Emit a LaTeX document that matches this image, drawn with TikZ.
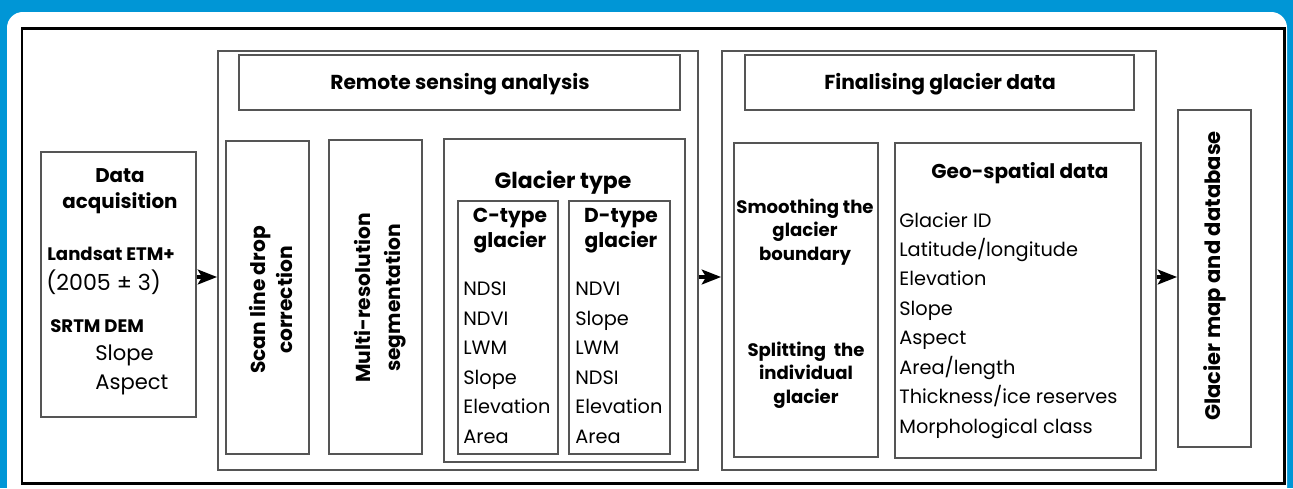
\documentclass[tikz,border=0pt]{standalone}
\usepackage{fontspec}
\setmainfont{Poppins}
\usetikzlibrary{positioning,calc,arrows.meta}
\definecolor{panelblue}{RGB}{0,150,214}
\definecolor{boxgray}{RGB}{85,85,85}
\newcommand{\mybox}[5]{
	% corners given in pixels: left, top, right, bottom
	\node [box, minimum width={(#4-#2)*0.02cm}, minimum height={(#5-#3)*0.02cm}] (#1) at ({(#2+#4)/2}, {(#3+#5)/2}) {};
}
\tikzset{
	box/.style={draw=boxgray, line width=1.1pt, inner sep=0pt},
	titletxt/.style={font=\bfseries\fontsize{11.5}{14}\selectfont, inner sep=0pt, align=center},
	bighead/.style={font=\bfseries\fontsize{12.5}{14.5}\selectfont, inner sep=0pt, align=center},
	smallhead/.style={font=\bfseries\fontsize{10.3}{13.3}\selectfont, inner sep=0pt, align=center},
	rothead/.style={font=\bfseries\fontsize{11.5}{15.5}\selectfont, inner sep=0pt, align=center, rotate=90},
	listtxt/.style={font=\fontsize{11}{16.75}\selectfont, inner sep=0pt, align=left, anchor=base west},
	link/.style={line width=1.8pt, -{Stealth[length=11pt,width=8.5pt,inset=2.5pt]}}
}

\begin{document}
\begin{tikzpicture}[x=0.02cm, y=-0.02cm]
		\useasboundingbox (0,0) rectangle (1293,488);
		\fill [panelblue] (0,0) rectangle (1293,488);
		\fill [white, rounded corners=9pt] (7,12) rectangle (1287,520);
		\draw [black, line width=1.7pt] (22,28) rectangle (1284,483);
		% boxes
		\mybox{acq}{41}{152}{196}{417}
		\mybox{remote}{218}{51}{698}{470}
		\mybox{remotetitle}{239}{55}{680}{110}
		\mybox{scan}{226}{141}{309}{454}
		\mybox{multi}{329}{140}{422}{454}
		\mybox{gtype}{444}{139}{685}{462}
		\mybox{ctype}{458}{201}{558}{454}
		\mybox{dtype}{569}{201}{670}{454}
		\mybox{final}{722}{51}{1156}{470}
		\mybox{finaltitle}{745}{55}{1134}{110}
		\mybox{smooth}{734}{143}{878}{457}
		\mybox{geo}{895}{143}{1141}{458}
		\mybox{map}{1178}{110}{1251}{447}
		% texts (multi-line nodes sit on the baseline of their last line)
		\node [bighead, font=\bfseries\fontsize{11.3}{14.5}\selectfont, anchor=base] (acqtxt) at (120,208) {Data\\acquisition};
		\node [smallhead, anchor=base west] (landsat) at (47,260) {Landsat ETM+};
		\node [listtxt, font=\fontsize{12.6}{16}\selectfont] (period) at (46,290) {(2005 ± 3)};
		\node [smallhead, anchor=base west] (srtm) at (50,332) {SRTM DEM};
		\node [listtxt, font=\fontsize{12}{16}\selectfont] (demlist) at (95,389) {Slope\\Aspect};
		\node [titletxt, anchor=base] (remotetxt) at (460,89) {Remote sensing analysis};
		\node [rothead] (scantxt) at (271,300) {Scan line drop\\correction};
		\node [rothead, font=\bfseries\fontsize{11.5}{17}\selectfont] (multitxt) at (380,298) {Multi-resolution\\segmentation};
		\node [bighead, anchor=base] (gtypetxt) at (563,188) {Glacier type};
		\node [titletxt, anchor=base] (ctypetxt) at (510,247) {C-type\\glacier};
		\node [titletxt, anchor=base] (dtypetxt) at (621,247) {D-type\\glacier};
		\node [listtxt] (clist) at (463,443) {NDSI\\NDVI\\LWM\\Slope\\Elevation\\Area};
		\node [listtxt] (dlist) at (575,443) {NDVI\\Slope\\LWM\\NDSI\\Elevation\\Area};
		\node [titletxt, anchor=base] (finaltxt) at (940,89) {Finalising glacier data};
		\node [smallhead, anchor=base] (smoothtxt) at (805,260) {Smoothing the\\glacier\\boundary};
		\node [smallhead, anchor=base] (splittxt) at (806,403) {Splitting~ the\\individual\\glacier};
		\node [bighead, font=\bfseries\fontsize{11.4}{14.5}\selectfont, anchor=base] (geotxt) at (1020,178) {Geo-spatial data};
		\node [listtxt] (geolist) at (899,433) {Glacier ID\\Latitude/longitude\\Elevation\\Slope\\Aspect\\Area/length\\Thickness/ice reserves\\Morphological class};
		\node [rothead, font=\bfseries\fontsize{12}{15}\selectfont] (maptxt) at (1215,276) {Glacier map and database};
		% arrows
		\coordinate (lvl) at (0,277);
		\draw [link] (acq.east |- lvl) -- (remote.west |- lvl);
		\draw [link] (remote.east |- lvl) -- (final.west |- lvl);
		\draw [link] (final.east |- lvl) -- (map.west |- lvl);
\end{tikzpicture}
\end{document}
